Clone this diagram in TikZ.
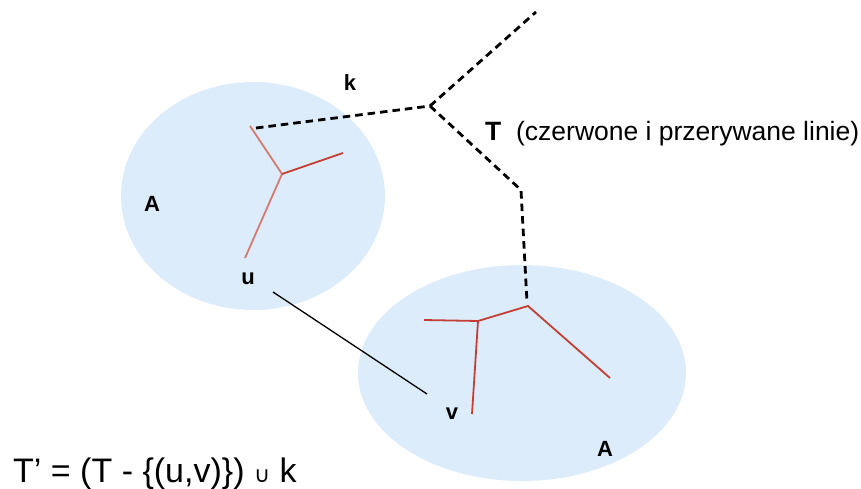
\documentclass[tikz,border=0pt]{standalone}
\usepackage{fontspec}
\setmainfont{Liberation Sans}
\newfontfamily\symfont{DejaVu Sans}
\begin{document}
\begin{tikzpicture}[x=1pt,y=-1pt,
  blob/.style={fill=setfill,draw=none},
  redline/.style={draw=treered,line width=1.8pt},
  pinkline/.style={draw=treepink,line width=1.8pt},
  dashline/.style={draw=black,line width=2.8pt,dash pattern=on 7.5pt off 5pt},
  lbl/.style={font=\fontsize{22}{26}\selectfont\bfseries,inner sep=0pt},
  txt/.style={font=\fontsize{26.5}{30}\selectfont,inner sep=0pt,anchor=base west}]
\definecolor{setfill}{RGB}{220,236,250}
\definecolor{treered}{RGB}{196,62,52}
\definecolor{treepink}{RGB}{214,122,112}
\useasboundingbox (0,0) rectangle (861,489);
% sets
\fill[blob] (253,196) ellipse [x radius=132, y radius=114];
\fill[blob] (522,373) ellipse [x radius=164, y radius=108];
% left tree
\coordinate (a1) at (250,126);
\coordinate (aj) at (282,174);
\coordinate (a2) at (343,153);
\coordinate (u) at (245,258);
\draw[pinkline] (a1) -- (aj) -- (u);
\draw[redline] (aj) -- (a2);
% right tree
\coordinate (bj) at (528,306);
\coordinate (b1) at (610,378);
\coordinate (bk) at (478,321);
\coordinate (b2) at (424,320);
\coordinate (v) at (472,414);
\draw[redline] (b1) -- (bj) -- (bk) -- (b2);
\draw[redline] (bk) -- (v);
% dashed tree T
\coordinate (tj) at (430,106);
\coordinate (t1) at (536,12);
\coordinate (t2) at (521,190);
\coordinate (t3) at (527,302);
\coordinate (k0) at (256,128);
\draw[dashline] (k0) -- (tj);
\draw[dashline] (tj) -- (t1);
\draw[dashline] (tj) -- (t2) -- (t3);
% edge u-v
\coordinate (uv1) at (273,292);
\coordinate (uv2) at (427,394);
\draw[black,line width=1.3pt] (uv1) -- (uv2);
% labels
\node[lbl] (lk) at (350,83) {k};
\node[lbl] (lA1) at (152,204) {A};
\node[lbl] (lu) at (248,279) {u};
\node[lbl] (lv) at (452,414) {v};
\node[lbl] (lA2) at (605,449) {A};
\node[txt] (lT) at (485,141) {\textbf{T}\ \ (czerwone i przerywane linie)};
\node[txt,font=\fontsize{34}{38}\selectfont] (form) at (13,482) {T’ = (T - \{(u,v)\}) {\symfont\fontsize{22}{26}\selectfont ∪} k};
\end{tikzpicture}
\end{document}
